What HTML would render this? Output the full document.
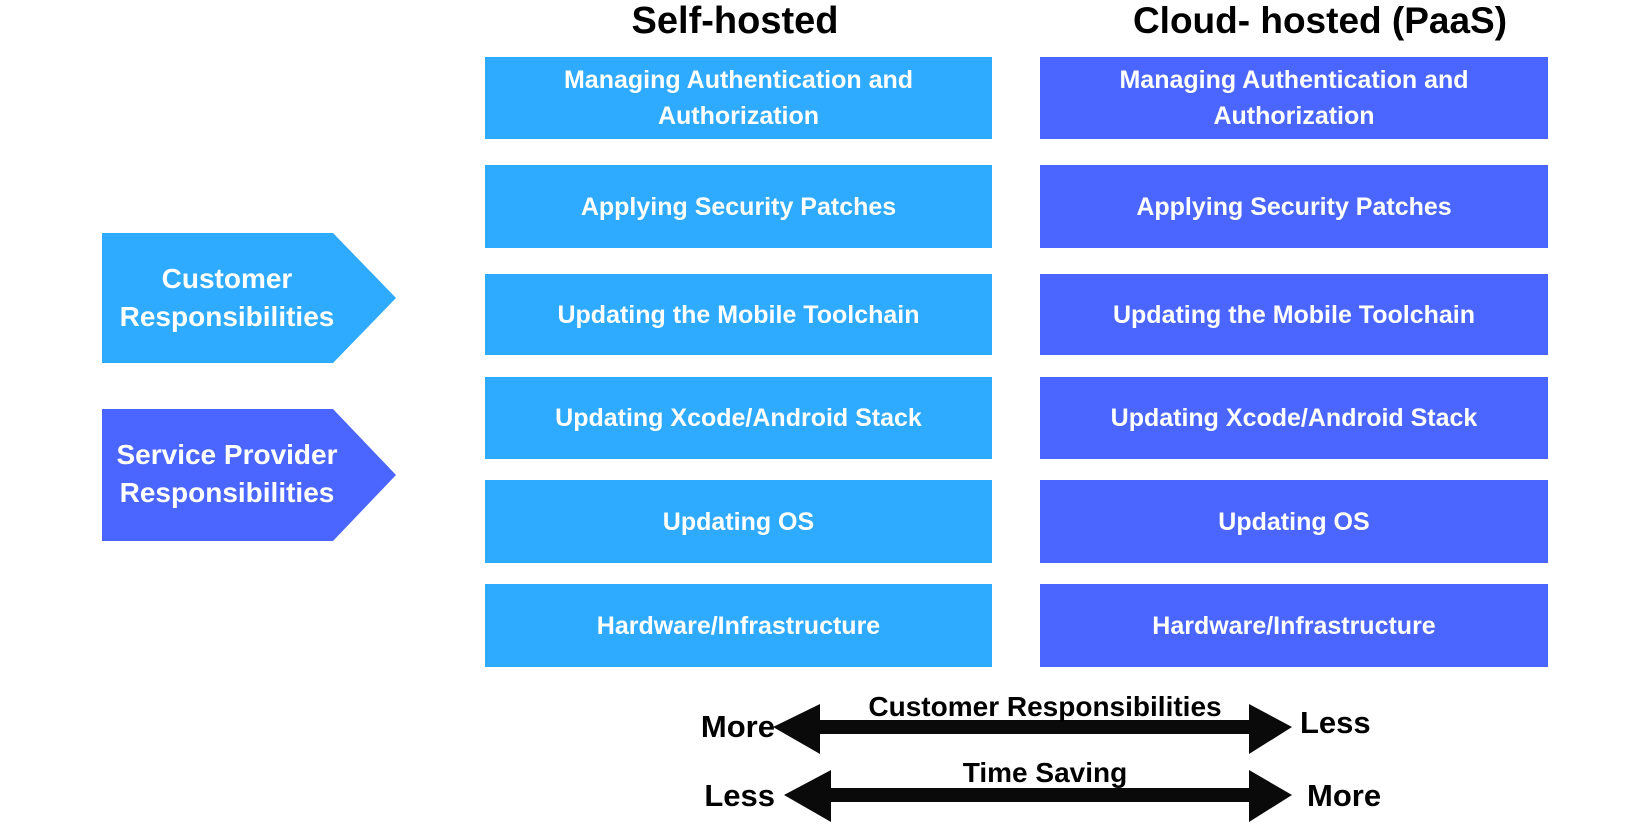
<!DOCTYPE html>
<html><head><meta charset="utf-8"><style>
body{margin:0;width:1650px;height:824px;background:#fff;overflow:hidden;position:relative;font-family:"Liberation Sans",sans-serif;font-weight:bold}
.t{position:absolute;text-align:center;color:#000;white-space:nowrap}
.b{position:absolute;display:flex;align-items:center;justify-content:center;text-align:center;color:#fff;font-size:25px;line-height:36px;white-space:nowrap}
.l{background:#2EAAFF}.d{background:#4A66FF}
</style></head><body>
<div class="t" style="left:535px;top:0px;width:400px;font-size:38px">Self-hosted</div>
<div class="t" style="left:1090px;top:0px;width:460px;font-size:37px">Cloud- hosted (PaaS)</div>

<div class="b l" style="left:485px;top:57px;width:507px;height:82px">Managing Authentication and<br>Authorization</div>
<div class="b l" style="left:485px;top:165px;width:507px;height:83px">Applying Security Patches</div>
<div class="b l" style="left:485px;top:274px;width:507px;height:81px">Updating the Mobile Toolchain</div>
<div class="b l" style="left:485px;top:377px;width:507px;height:82px">Updating Xcode/Android Stack</div>
<div class="b l" style="left:485px;top:480px;width:507px;height:83px">Updating OS</div>
<div class="b l" style="left:485px;top:584px;width:507px;height:83px">Hardware/Infrastructure</div>

<div class="b d" style="left:1040px;top:57px;width:508px;height:82px">Managing Authentication and<br>Authorization</div>
<div class="b d" style="left:1040px;top:165px;width:508px;height:83px">Applying Security Patches</div>
<div class="b d" style="left:1040px;top:274px;width:508px;height:81px">Updating the Mobile Toolchain</div>
<div class="b d" style="left:1040px;top:377px;width:508px;height:82px">Updating Xcode/Android Stack</div>
<div class="b d" style="left:1040px;top:480px;width:508px;height:83px">Updating OS</div>
<div class="b d" style="left:1040px;top:584px;width:508px;height:83px">Hardware/Infrastructure</div>

<svg style="position:absolute;left:0;top:0" width="1650" height="824">
<polygon points="102,233 333,233 396,298 333,363 102,363" fill="#2EAAFF"/>
<polygon points="102,409 333,409 396,475 333,541 102,541" fill="#4A66FF"/>
<g fill="#0a0a0a">
<polygon points="773,727 820,704 820,720 1249,720 1249,704 1292,727 1249,754 1249,734 820,734 820,754"/>
<polygon points="784,795 831,770 831,788 1249,788 1249,770 1292,795 1249,822 1249,802 831,802 831,822"/>
</g>
</svg>
<div class="b" style="left:102px;top:259px;width:250px;height:78px;font-size:28px;line-height:38px">Customer<br>Responsibilities</div>
<div class="b" style="left:102px;top:435px;width:250px;height:78px;font-size:28px;line-height:38px">Service Provider<br>Responsibilities</div>

<div class="t" style="left:640px;top:709px;width:135px;font-size:31px;text-align:right">More</div>
<div class="t" style="left:1300px;top:705px;width:120px;font-size:31px;text-align:left">Less</div>
<div class="t" style="left:820px;top:691px;width:450px;font-size:28px">Customer Responsibilities</div>
<div class="t" style="left:820px;top:757px;width:450px;font-size:28px">Time Saving</div>
<div class="t" style="left:640px;top:778px;width:135px;font-size:31px;text-align:right">Less</div>
<div class="t" style="left:1307px;top:778px;width:120px;font-size:31px;text-align:left">More</div>
</body></html>
